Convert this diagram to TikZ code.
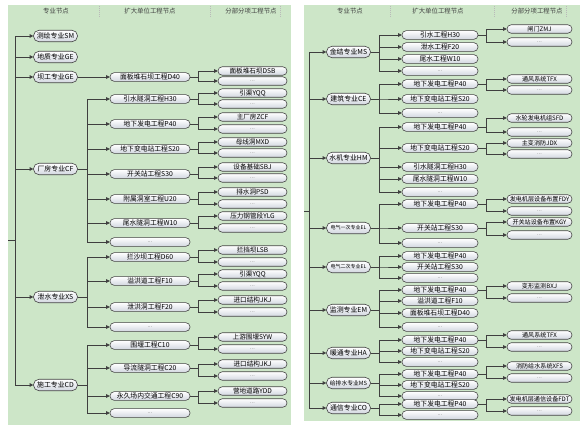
\documentclass[tikz,border=0pt]{standalone}
\usepackage{fontspec}
\setmainfont{Noto Sans CJK SC}
\usepackage{xcolor}
\usepackage{tikz}
\usetikzlibrary{arrows.meta, positioning, calc}
\definecolor{panelgreen}{HTML}{CDE6C8}
\definecolor{linegray}  {HTML}{3F3F3F}
\definecolor{nodeedge}  {HTML}{454545}
\definecolor{nodeshade} {HTML}{D2D7E0}
\definecolor{hdrtext}   {HTML}{404040}
\tikzset{
  panel/.style={fill=panelgreen, draw=none},
  hdr/.style={font=\fontsize{6.4}{7}\selectfont, text=hdrtext},
  coldiv/.style={draw=gray!55, line width=0.4pt, dash pattern=on 1pt off 1pt},
  pill/.style={rectangle, draw=nodeedge, line width=0.6pt, top color=white,
    bottom color=nodeshade, inner sep=0pt, align=center},
  lvone/.style={pill, rounded corners=5.5pt, minimum width=44pt,
    minimum height=11.5pt, inner xsep=2pt, font=\fontsize{6.9}{8}\selectfont},
  lvsmall/.style={font=\fontsize{5}{5}\selectfont},
  lvtwo/.style={pill, rounded corners=4.3pt, minimum width=80pt,
    minimum height=8.8pt, font=\fontsize{6.8}{7}\selectfont},
  rtwo/.style={lvtwo, minimum width=76pt},
  lvthree/.style={pill, rounded corners=4.2pt, minimum width=69pt,
    minimum height=8.5pt, font=\fontsize{6.6}{7}\selectfont},
  rthree/.style={lvthree, minimum width=65pt, inner xsep=1.5pt,
    font=\fontsize{6.1}{7}\selectfont},
  conn/.style={draw=linegray, line width=0.6pt},
  arr/.style={conn, -{Triangle[length=3.5pt,width=3.6pt]}}
}
\newcommand{\etc}{{\fontsize{5.5}{5}\selectfont\color{black!55}\raisebox{-1pt}{...}}}
% parent, style, leaf text, x, y of leaf, y of "..."
\newcommand{\leafs}[6]{%
  \node[#2] (#1-a) at (#4,#5) {#3};
  \node[#2] (#1-b) at (#4,#6) {\etc};
  \draw[arr] (#1.east) -- ++(8,0) |- (#1-a.west);
  \draw[arr] (#1.east) -- ++(8,0) |- (#1-b.west);}

\begin{document}
\begin{tikzpicture}[x=1pt, y=-1pt]

  \useasboundingbox (0,0) rectangle (584,425);
  \fill[white] (0,0) rectangle (584,425);
  \fill[panel] (8,5) rectangle (291,425);
  \fill[panel] (304,5) rectangle (580,421);

  %% HEADERS
  \node[hdr] (hdr-l1) at (56,11)  {专业节点};
  \node[hdr] (hdr-l2) at (150,11) {扩大单位工程节点};
  \node[hdr] (hdr-l3) at (251,11) {分部分项工程节点};
  \node[hdr] (hdr-r1) at (350,11) {专业节点};
  \node[hdr] (hdr-r2) at (438,11) {扩大单位工程节点};
  \node[hdr] (hdr-r3) at (537,11) {分部分项工程节点};
  \draw[coldiv] (99,6) -- (99,17)   (210,6) -- (210,17)  (280,6) -- (280,17);
  \draw[coldiv] (390,6) -- (390,17) (494,6) -- (494,17)  (566,6) -- (566,17);

  %% LEFT PANEL
  \node[lvone] (cehui)     at (55.5,36)  {测绘专业SM};
  \node[lvone] (dizhi)     at (55.5,57)  {地质专业GE};
  \node[lvone] (bagong)    at (55.5,77)  {坝工专业GE};
  \node[lvone] (changfang) at (55.5,169) {厂房专业CF};
  \node[lvone] (xieshui)   at (55.5,297) {泄水专业XS};
  \node[lvone] (shigong)   at (55.5,385) {施工专业CD};

  \coordinate (lstub)  at (8,240);
  \coordinate (ltrunk) at (15,240);
  \draw[conn] (lstub) -- (ltrunk);
  \draw[arr] (ltrunk) |- (cehui.west);
  \draw[arr] (ltrunk) |- (dizhi.west);
  \draw[arr] (ltrunk) |- (bagong.west);
  \draw[arr] (ltrunk) |- (changfang.west);
  \draw[arr] (ltrunk) |- (xieshui.west);
  \draw[arr] (ltrunk) |- (shigong.west);

  \node[lvtwo] (bg-d40)  at (150,77)  {面板堆石坝工程D40};
  \node[lvtwo] (cf-h30)  at (150,99)  {引水隧洞工程H30};
  \node[lvtwo] (cf-p40)  at (150,124) {地下发电工程P40};
  \node[lvtwo] (cf-s20)  at (150,149) {地下变电站工程S20};
  \node[lvtwo] (cf-s30)  at (150,174) {开关站工程S30};
  \node[lvtwo] (cf-u20)  at (150,199) {附属洞室工程U20};
  \node[lvtwo] (cf-w10)  at (150,223) {尾水隧洞工程W10};
  \node[lvtwo] (cf-etc)  at (150,242) {\etc};
  \node[lvtwo] (xs-d60)  at (150,257) {拦沙坝工程D60};
  \node[lvtwo] (xs-f10)  at (150,281) {溢洪道工程F10};
  \node[lvtwo] (xs-f20)  at (150,307) {泄洪洞工程F20};
  \node[lvtwo] (xs-etc)  at (150,327) {\etc};
  \node[lvtwo] (sg-c10)  at (150,345) {围堰工程C10};
  \node[lvtwo] (sg-c20)  at (150,368) {导流隧洞工程C20};
  \node[lvtwo] (sg-c90)  at (150,396) {永久场内交通工程C90};
  \node[lvtwo] (sg-etc)  at (150,413) {\etc};

  \draw[arr] (bagong.east) -- (bg-d40.west);
  \draw[arr] (changfang.east) -- ++(9,0) |- (cf-h30.west);
  \draw[arr] (changfang.east) -- ++(9,0) |- (cf-p40.west);
  \draw[arr] (changfang.east) -- ++(9,0) |- (cf-s20.west);
  \draw[arr] (changfang.east) -- ++(9,0) |- (cf-s30.west);
  \draw[arr] (changfang.east) -- ++(9,0) |- (cf-u20.west);
  \draw[arr] (changfang.east) -- ++(9,0) |- (cf-w10.west);
  \draw[arr] (changfang.east) -- ++(9,0) |- (cf-etc.west);
  \draw[arr] (xieshui.east) -- ++(9,0) |- (xs-d60.west);
  \draw[arr] (xieshui.east) -- ++(9,0) |- (xs-f10.west);
  \draw[arr] (xieshui.east) -- ++(9,0) |- (xs-f20.west);
  \draw[arr] (xieshui.east) -- ++(9,0) |- (xs-etc.west);
  \draw[arr] (shigong.east) -- ++(9,0) |- (sg-c10.west);
  \draw[arr] (shigong.east) -- ++(9,0) |- (sg-c20.west);
  \draw[arr] (shigong.east) -- ++(9,0) |- (sg-c90.west);
  \draw[arr] (shigong.east) -- ++(9,0) |- (sg-etc.west);

  \leafs{bg-d40}{lvthree}{面板堆石坝DSB}{252.5}{71}{81}
  \leafs{cf-h30}{lvthree}{引渠YQQ}{252.5}{93}{104}
  \leafs{cf-p40}{lvthree}{主厂房ZCF}{252.5}{117}{129}
  \leafs{cf-s20}{lvthree}{母线洞MXD}{252.5}{142}{153}
  \leafs{cf-s30}{lvthree}{设备基础SBJ}{252.5}{167}{178}
  \leafs{cf-u20}{lvthree}{排水洞PSD}{252.5}{192}{204}
  \leafs{cf-w10}{lvthree}{压力钢管段YLG}{252.5}{216}{228}
  \leafs{xs-d60}{lvthree}{拦挡坝LSB}{252.5}{250}{262}
  \leafs{xs-f10}{lvthree}{引渠YQQ}{252.5}{274}{286}
  \leafs{xs-f20}{lvthree}{进口结构JKJ}{252.5}{300}{312}
  \leafs{sg-c10}{lvthree}{上游围堰SYW}{252.5}{337}{349}
  \leafs{sg-c20}{lvthree}{进口结构JKJ}{252.5}{364}{376}
  \leafs{sg-c90}{lvthree}{营地道路YDD}{252.5}{391}{403}

  %% RIGHT PANEL
  \node[lvone] (jinjie)   at (348.5,52)  {金结专业MS};
  \node[lvone] (jianzhu)  at (348.5,99)  {建筑专业CE};
  \node[lvone] (shuiji)   at (348.5,158) {水机专业HM};
  \node[lvone, lvsmall] (dianyi) at (348.5,228) {电气一次专业EL};
  \node[lvone, lvsmall] (dianer) at (348.5,267) {电气二次专业EL};
  \node[lvone] (jiance)   at (348.5,310) {监测专业EM};
  \node[lvone] (nuantong) at (348.5,353) {暖通专业HA};
  \node[lvone, font=\fontsize{5.8}{6}\selectfont] (geipai) at (348.5,383) {给排水专业MS};
  \node[lvone] (tongxin)  at (348.5,408) {通信专业CO};

  \coordinate (rstub)  at (304,211);
  \coordinate (rtrunk) at (309,211);
  \draw[conn] (rstub) -- (rtrunk);
  \draw[arr] (rtrunk) |- (jinjie.west);
  \draw[arr] (rtrunk) |- (jianzhu.west);
  \draw[arr] (rtrunk) |- (shuiji.west);
  \draw[arr] (rtrunk) |- (dianyi.west);
  \draw[arr] (rtrunk) |- (dianer.west);
  \draw[arr] (rtrunk) |- (jiance.west);
  \draw[arr] (rtrunk) |- (nuantong.west);
  \draw[arr] (rtrunk) |- (geipai.west);
  \draw[arr] (rtrunk) |- (tongxin.west);

  \node[rtwo] (jj-h30) at (440,35)  {引水工程H30};
  \node[rtwo] (jj-f20) at (440,47)  {泄水工程F20};
  \node[rtwo] (jj-w10) at (440,59)  {尾水工程W10};
  \node[rtwo] (jj-etc) at (440,71)  {\etc};
  \node[rtwo] (jz-p40) at (440,84)  {地下发电工程P40};
  \node[rtwo] (jz-s20) at (440,99)  {地下变电站工程S20};
  \node[rtwo] (jz-etc) at (440,113) {\etc};
  \node[rtwo] (sj-p40) at (440,127) {地下发电工程P40};
  \node[rtwo] (sj-s20) at (440,148) {地下变电站工程S20};
  \node[rtwo] (sj-h30) at (440,167) {引水隧洞工程H30};
  \node[rtwo] (sj-w10) at (440,179) {尾水隧洞工程W10};
  \node[rtwo] (sj-etc) at (440,192) {\etc};
  \node[rtwo] (dy-p40) at (440,204) {地下发电工程P40};
  \node[rtwo] (dy-s30) at (440,228) {开关站工程S30};
  \node[rtwo] (dy-etc) at (440,243) {\etc};
  \node[rtwo] (de-p40) at (440,256) {地下发电工程P40};
  \node[rtwo] (de-s30) at (440,267) {开关站工程S30};
  \node[rtwo] (de-etc) at (440,278) {\etc};
  \node[rtwo] (jc-p40) at (440,290) {地下发电工程P40};
  \node[rtwo] (jc-f10) at (440,301) {溢洪道工程F10};
  \node[rtwo] (jc-d40) at (440,313) {面板堆石坝工程D40};
  \node[rtwo] (jc-etc) at (440,327) {\etc};
  \node[rtwo] (nt-p40) at (440,340) {地下发电工程P40};
  \node[rtwo] (nt-s20) at (440,351) {地下变电站工程S20};
  \node[rtwo] (nt-etc) at (440,362) {\etc};
  \node[rtwo] (gp-p40) at (440,374) {地下发电工程P40};
  \node[rtwo] (gp-s20) at (440,385) {地下变电站工程S20};
  \node[rtwo] (gp-etc) at (440,396) {\etc};
  \node[rtwo] (tx-p40) at (440,404) {地下发电工程P40};
  \node[rtwo] (tx-etc) at (440,415) {\etc};

  \draw[arr] (jinjie.east) -- ++(8,0) |- (jj-h30.west);
  \draw[arr] (jinjie.east) -- ++(8,0) |- (jj-f20.west);
  \draw[arr] (jinjie.east) -- ++(8,0) |- (jj-w10.west);
  \draw[arr] (jinjie.east) -- ++(8,0) |- (jj-etc.west);
  \draw[arr] (jianzhu.east) -- ++(8,0) |- (jz-p40.west);
  \draw[arr] (jianzhu.east) -- ++(8,0) |- (jz-s20.west);
  \draw[arr] (jianzhu.east) -- ++(8,0) |- (jz-etc.west);
  \draw[arr] (shuiji.east) -- ++(8,0) |- (sj-p40.west);
  \draw[arr] (shuiji.east) -- ++(8,0) |- (sj-s20.west);
  \draw[arr] (shuiji.east) -- ++(8,0) |- (sj-h30.west);
  \draw[arr] (shuiji.east) -- ++(8,0) |- (sj-w10.west);
  \draw[arr] (shuiji.east) -- ++(8,0) |- (sj-etc.west);
  \draw[arr] (dianyi.east) -- ++(8,0) |- (dy-p40.west);
  \draw[arr] (dianyi.east) -- ++(8,0) |- (dy-s30.west);
  \draw[arr] (dianyi.east) -- ++(8,0) |- (dy-etc.west);
  \draw[arr] (dianer.east) -- ++(8,0) |- (de-p40.west);
  \draw[arr] (dianer.east) -- ++(8,0) |- (de-s30.west);
  \draw[arr] (dianer.east) -- ++(8,0) |- (de-etc.west);
  \draw[arr] (jiance.east) -- ++(8,0) |- (jc-p40.west);
  \draw[arr] (jiance.east) -- ++(8,0) |- (jc-f10.west);
  \draw[arr] (jiance.east) -- ++(8,0) |- (jc-d40.west);
  \draw[arr] (jiance.east) -- ++(8,0) |- (jc-etc.west);
  \draw[arr] (nuantong.east) -- ++(8,0) |- (nt-p40.west);
  \draw[arr] (nuantong.east) -- ++(8,0) |- (nt-s20.west);
  \draw[arr] (nuantong.east) -- ++(8,0) |- (nt-etc.west);
  \draw[arr] (geipai.east) -- ++(8,0) |- (gp-p40.west);
  \draw[arr] (geipai.east) -- ++(8,0) |- (gp-s20.west);
  \draw[arr] (geipai.east) -- ++(8,0) |- (gp-etc.west);
  \draw[arr] (tongxin.east) -- ++(8,0) |- (tx-p40.west);
  \draw[arr] (tongxin.east) -- ++(8,0) |- (tx-etc.west);

  \leafs{jj-h30}{rthree}{闸门ZMJ}{539.5}{29}{42}
  \leafs{jz-p40}{rthree}{通风系统TFX}{539.5}{79}{90}
  \leafs{sj-p40}{rthree}{水轮发电机组SFD}{539.5}{118}{132}
  \leafs{sj-s20}{rthree}{主变消防JDX}{539.5}{143}{154}
  \leafs{dy-p40}{rthree}{发电机层设备布置FDY}{539.5}{199}{211}
  \leafs{dy-s30}{rthree}{开关站设备布置KGY}{539.5}{222}{235}
  \leafs{jc-p40}{rthree}{变形监测BXJ}{539.5}{286}{298}
  \leafs{nt-p40}{rthree}{通风系统TFX}{539.5}{335}{347}
  \leafs{gp-p40}{rthree}{消防给水系统XFS}{539.5}{366}{378}
  \leafs{tx-p40}{rthree}{发电机层通信设备FDT}{539.5}{399}{411}

\end{tikzpicture}
\end{document}
